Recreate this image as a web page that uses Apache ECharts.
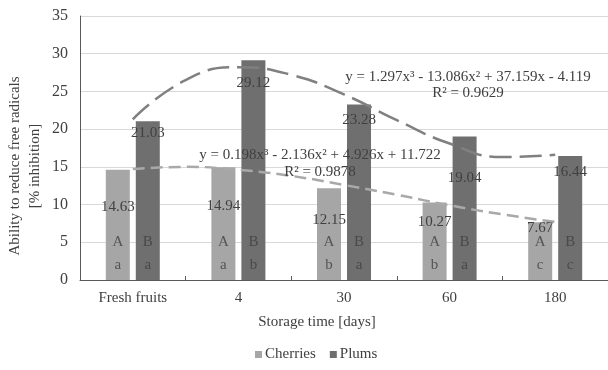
<!DOCTYPE html>
<html>
<head>
<meta charset="utf-8">
<script src="https://cdn.jsdelivr.net/npm/echarts@6/dist/echarts.min.js"></script>
<style>html,body{margin:0;padding:0;background:#fff}#c{width:608px;height:370px}</style>
</head>
<body>
<div id="c"></div>
<script>
// ---- data ----
const categories = ['Fresh fruits', '4', '30', '60', '180'];
const cherries = [14.63, 14.94, 12.15, 10.27, 7.67];
const plums = [21.03, 29.12, 23.28, 19.04, 16.44];
const cherriesUpper = ['A', 'A', 'A', 'A', 'A'];
const plumsUpper = ['B', 'B', 'B', 'B', 'B'];
const cherriesLower = ['a', 'a', 'b', 'b', 'c'];
const plumsLower = ['a', 'b', 'a', 'a', 'c'];
// trend curves (x = category position 1..5)
const plumsTrend = [[1, 21.3], [1.5, 26.5], [2, 28.2], [2.5, 27.2], [3, 24.6], [3.5, 21.2], [4, 18.1], [4.5, 16.3], [5, 16.6]];
const cherriesTrend = [[1, 14.7], [1.5, 15.0], [2, 14.6], [2.5, 13.8], [3, 12.6], [3.5, 11.3], [4, 9.9], [4.5, 8.7], [5, 7.7]];
const plumsEquation = ['y = 1.297x³ - 13.086x² + 37.159x - 4.119', 'R² = 0.9629'];
const cherriesEquation = ['y = 0.198x³ - 2.136x² + 4.926x + 11.722', 'R² = 0.9878'];
const yMin = 0, yMax = 35, yStep = 5;

// ---- layout / style ----
const FONT = 'Liberation Serif';
const TXT = '#404040';
const cherriesLabelDrop = [38, 39, 32, 20, 6];
const plumsLabelDrop = [12, 23, 16, 42, 17];
const UPPER_ROW = 5, LOWER_ROW = 2;

function barData(vals, drops) {
  return vals.map((v, i) => ({ value: v, label: { offset: [0, drops[i] - 8] } }));
}
function letterSeries(letters, row, dx) {
  return {
    type: 'scatter', xAxisIndex: 0, yAxisIndex: 0, symbolSize: 0, silent: true, z: 5,
    data: letters.map((t, i) => [i, row]),
    label: { show: true, position: 'inside', offset: [dx, 0], color: TXT, fontFamily: FONT, fontSize: 15,
      formatter: p => letters[p.dataIndex] }
  };
}

const chart = echarts.init(document.getElementById('c'), null, { renderer: 'canvas' });
chart.setOption({
  animation: false,
  backgroundColor: '#fff',
  textStyle: { fontFamily: FONT },
  grid: { left: 80, top: 16, width: 530, height: 264 },
  legend: {
    left: 250, top: 342, itemWidth: 7, itemHeight: 7, itemGap: 14, icon: 'rect',
    textStyle: { color: TXT, fontFamily: FONT, fontSize: 15, padding: [0, 0, 0, -2] },
    data: ['Cherries', 'Plums']
  },
  xAxis: [{
    type: 'category', data: categories,
    axisLine: { lineStyle: { color: '#595959', width: 1 } },
    axisTick: { show: true, inside: true, length: 4, lineStyle: { color: '#595959' } },
    axisLabel: { color: TXT, fontFamily: FONT, fontSize: 15, margin: 11 },
    splitLine: { show: false }
  }, {
    type: 'value', min: 0.5, max: 5.5, show: false, gridIndex: 0
  }],
  yAxis: {
    type: 'value', min: yMin, max: yMax, interval: yStep,
    axisLine: { show: true, lineStyle: { color: '#595959', width: 1 } },
    axisTick: { show: false },
    axisLabel: { color: TXT, fontFamily: FONT, fontSize: 16, margin: 12 },
    splitLine: { lineStyle: { color: '#d9d9d9', width: 1 } }
  },
  series: [
    {
      name: 'Cherries', type: 'bar', barWidth: 24, barGap: '25%',
      itemStyle: { color: '#a6a6a6' },
      data: barData(cherries, cherriesLabelDrop),
      label: { show: true, position: 'insideTop', distance: 0, color: TXT, fontFamily: FONT, fontSize: 15 }
    },
    {
      name: 'Plums', type: 'bar', barWidth: 24, barGap: '25%',
      itemStyle: { color: '#6f6f6f' },
      data: barData(plums, plumsLabelDrop),
      label: { show: true, position: 'insideTop', distance: 0, color: TXT, fontFamily: FONT, fontSize: 15 }
    },
    {
      type: 'line', xAxisIndex: 1, yAxisIndex: 0, smooth: 0.5, symbol: 'none', z: 4, silent: true,
      data: plumsTrend,
      lineStyle: { color: '#808080', width: 2.5, type: [22, 8] }
    },
    {
      type: 'line', xAxisIndex: 1, yAxisIndex: 0, smooth: 0.5, symbol: 'none', z: 4, silent: true,
      data: cherriesTrend,
      lineStyle: { color: '#a9a9a9', width: 2.5, type: [12, 6] }
    },
    letterSeries(cherriesUpper, UPPER_ROW, -15),
    letterSeries(plumsUpper, UPPER_ROW, 15),
    letterSeries(cherriesLower, LOWER_ROW, -15),
    letterSeries(plumsLower, LOWER_ROW, 15)
  ],
  graphic: [
    { type: 'text', x: 468, y: 77, z: 10, style: { text: plumsEquation[0], font: '15px ' + FONT, fill: TXT, align: 'center', verticalAlign: 'middle' } },
    { type: 'text', x: 468, y: 93, z: 10, style: { text: plumsEquation[1], font: '15px ' + FONT, fill: TXT, align: 'center', verticalAlign: 'middle' } },
    { type: 'text', x: 320, y: 155, z: 10, style: { text: cherriesEquation[0], font: '15px ' + FONT, fill: TXT, align: 'center', verticalAlign: 'middle' } },
    { type: 'text', x: 320, y: 172, z: 10, style: { text: cherriesEquation[1], font: '15px ' + FONT, fill: TXT, align: 'center', verticalAlign: 'middle' } },
    { type: 'text', x: 25, y: 166, rotation: Math.PI / 2, style: { text: 'Ability to reduce free radicals\n[% inhibition]', font: '15px ' + FONT, fill: TXT, align: 'center', verticalAlign: 'middle', lineHeight: 20 } },
    { type: 'text', x: 317, y: 322, style: { text: 'Storage time [days]', font: '15px ' + FONT, fill: TXT, align: 'center', verticalAlign: 'middle' } }
  ]
});
</script>
</body>
</html>
